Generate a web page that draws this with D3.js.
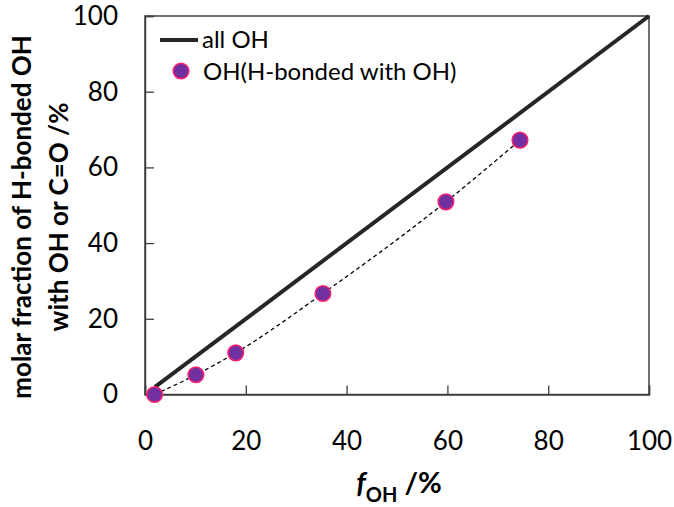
<!DOCTYPE html>
<html>
<head>
<meta charset="utf-8">
<script src="https://cdn.jsdelivr.net/npm/d3@7"></script>
<style>
  html, body { margin: 0; padding: 0; background: #fff; }
  svg text { font-family: Lato, "Open Sans", "Liberation Sans", sans-serif; fill: #000; }
</style>
</head>
<body>
<svg id="chart" width="674" height="507"></svg>
<script>
// Fraction of OH groups (x) vs. molar fraction of H-bonded OH (y), in %
const fOH = [1.9, 10.1, 18.0, 35.3, 59.7, 74.4];
const hBondedOH = [0.0, 5.2, 11.0, 26.7, 50.9, 67.2];
// Reference line: all OH
const allOHx = [2, 100];
const allOHy = [2, 100];
const xTicks = [0, 20, 40, 60, 80, 100];
const yTicks = [0, 20, 40, 60, 80, 100];

const svg = d3.select("#chart");
const plotL = 145, plotR = 649, plotT = 16, plotB = 394.5;

const x = d3.scaleLinear().domain([0, 100]).range([plotL, plotR]);
const y = d3.scaleLinear().domain([0, 100]).range([plotB, plotT]);
const axisColor = "#404040";
const font = "Lato, 'Open Sans', sans-serif";

// frame
svg.append("rect")
  .attr("x", plotL).attr("y", plotT)
  .attr("width", plotR - plotL).attr("height", plotB - plotT)
  .attr("fill", "none").attr("stroke", axisColor).attr("stroke-width", 1.5);

// x axis: inward ticks, labels below
const xAxis = svg.append("g").attr("transform", `translate(0,${plotB})`)
  .call(d3.axisBottom(x).tickValues(xTicks).tickSize(-9).tickPadding(37).tickFormat(d3.format("d")));
xAxis.select(".domain").attr("stroke", axisColor).attr("stroke-width", 1.5);
xAxis.selectAll(".tick line").attr("stroke", axisColor).attr("stroke-width", 1.3);
xAxis.selectAll(".tick text").attr("font-size", 26).attr("fill", "#000").style("font-family", font);

// y axis: inward ticks, labels on left
const yAxis = svg.append("g").attr("transform", `translate(${plotL},0)`)
  .call(d3.axisLeft(y).tickValues(yTicks).tickSize(-9).tickPadding(27).tickFormat(d3.format("d")));
yAxis.select(".domain").attr("stroke", axisColor).attr("stroke-width", 1.5);
yAxis.selectAll(".tick line").attr("stroke", axisColor).attr("stroke-width", 1.3);
yAxis.selectAll(".tick text").attr("font-size", 26).attr("fill", "#000").style("font-family", font);

// all OH line
svg.append("path")
  .datum(allOHx.map((v, i) => [v, allOHy[i]]))
  .attr("d", d3.line().x(d => x(d[0])).y(d => y(d[1])))
  .attr("fill", "none").attr("stroke", "#262626").attr("stroke-width", 4);

// dashed trend through measured points
const pts = fOH.map((v, i) => [v, hBondedOH[i]]);
svg.append("path")
  .datum(pts)
  .attr("d", d3.line().x(d => x(d[0])).y(d => y(d[1])).curve(d3.curveMonotoneX))
  .attr("fill", "none").attr("stroke", "#000").attr("stroke-width", 1.3)
  .attr("stroke-dasharray", "4,3");

// measured points
svg.append("g").selectAll("circle").data(pts).join("circle")
  .attr("cx", d => x(d[0])).attr("cy", d => y(d[1])).attr("r", 7.8)
  .attr("fill", "#7030A0").attr("stroke", "#FF1F6E").attr("stroke-width", 1.5);

// legend
const lg = svg.append("g");
lg.append("line").attr("x1", 160).attr("x2", 198).attr("y1", 40).attr("y2", 40)
  .attr("stroke", "#262626").attr("stroke-width", 4);
lg.append("text").attr("x", 202).attr("y", 48).attr("font-size", 24).text("all OH");
lg.append("circle").attr("cx", 181).attr("cy", 71).attr("r", 7.8)
  .attr("fill", "#7030A0").attr("stroke", "#FF1F6E").attr("stroke-width", 1.5);
lg.append("text").attr("x", 203).attr("y", 80).attr("font-size", 24).text("OH(H-bonded with OH)");

// x axis title
const xt = svg.append("text").attr("x", 399).attr("y", 493)
  .attr("text-anchor", "middle").attr("font-weight", "bold").attr("font-size", 29);
xt.append("tspan").attr("font-style", "italic").text("f");
xt.append("tspan").attr("font-size", 20).attr("dy", 9).text("OH");
xt.append("tspan").attr("dy", -9).text(" /%");

// y axis title (two lines)
const yt = svg.append("text").attr("transform", "translate(0,217) rotate(-90)")
  .attr("text-anchor", "middle").attr("font-weight", "bold").attr("font-size", 26);
yt.append("tspan").attr("x", 0).attr("y", 31).text("molar fraction of H-bonded OH");
yt.append("tspan").attr("x", 0).attr("y", 68).text("with OH or C=O /%");
</script>
</body>
</html>
